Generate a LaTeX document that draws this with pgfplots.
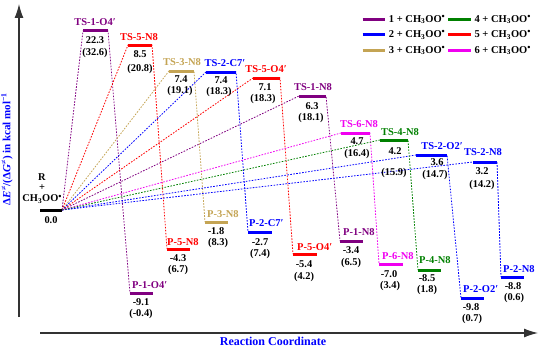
\documentclass[border=0pt]{standalone}
\usepackage{fontspec}
\setmainfont{Liberation Serif}
\usepackage{pgfplots}
\pgfplotsset{compat=1.18}
\usetikzlibrary{arrows.meta}
\definecolor{cP}{RGB}{128,0,128}
\definecolor{cB}{RGB}{0,0,255}
\definecolor{cT}{RGB}{196,164,84}
\definecolor{cG}{RGB}{0,128,0}
\definecolor{cR}{RGB}{255,0,0}
\definecolor{cM}{RGB}{240,0,240}
\newcommand{\rad}{CH\textsubscript{3}OO\raisebox{0.55ex}{\fontsize{9}{9}\selectfont •}}
\begin{document}
\begin{tikzpicture}[
 nm/.style={font=\bfseries\fontsize{10.5}{12}\selectfont, inner sep=0pt},
 vl/.style={font=\bfseries\fontsize{10.4}{12}\selectfont, inner sep=0pt, text=black},
 pn/.style={font=\bfseries\fontsize{10.5}{12}\selectfont, inner sep=0pt, anchor=west},
]
\begin{axis}[
 scale only axis, width=543pt, height=349pt,
 xmin=0, xmax=543, ymin=-139, ymax=210,
 hide axis, clip=false,
 legend columns=2,
 legend cell align=left,
 legend style={draw=none, fill=none, at={(axis cs:358,199)}, anchor=north west,
   font=\bfseries\fontsize{10.5}{12}\selectfont, row sep=3pt,
   /tikz/every odd column/.style={column sep=0pt}},
 legend image code/.code={\draw[#1, line width=3pt] (0cm,0cm) -- (0.8cm,0cm);},
 conn/.style={line width=0.8pt, dash pattern=on 1.6pt off 1.4pt, forget plot},
 bar/.style={line width=3pt, forget plot},
]
% connectors: R -> TS -> P
\addplot[cP, conn] coordinates {(62,0) (83,179) (108,179) (130,-83)};
\addplot[cP, conn] coordinates {(62,0) (299,114) (326,114) (340,-31)};
\addplot[cR, conn] coordinates {(62,0) (128,165) (152,165) (167,-39)};
\addplot[cR, conn] coordinates {(62,0) (253,132) (280,132) (293,-44)};
\addplot[cT, conn] coordinates {(62,0) (169,139) (194,139) (205,-12)};
\addplot[cB, conn] coordinates {(62,0) (206,138) (236,138) (248,-22)};
\addplot[cB, conn] coordinates {(62,0) (416,55) (447,55) (461,-88)};
\addplot[cB, conn] coordinates {(62,0) (473,48) (497,48) (501,-67)};
\addplot[cM, conn] coordinates {(62,0) (341,77) (370,77) (379,-54)};
\addplot[cG, conn] coordinates {(62,0) (380,70) (408,70) (418,-60)};
% levels
\addplot[black, bar] coordinates {(40,0) (62,0)};
\addplot[cP, bar] coordinates {(83,179) (108,179)};
\addplot[cR, bar] coordinates {(128,165) (152,165)};
\addplot[cT, bar] coordinates {(169,139) (194,139)};
\addplot[cB, bar] coordinates {(206,138) (236,138)};
\addplot[cR, bar] coordinates {(253,132) (280,132)};
\addplot[cP, bar] coordinates {(299,114) (326,114)};
\addplot[cM, bar] coordinates {(341,77) (370,77)};
\addplot[cG, bar] coordinates {(380,70) (408,70)};
\addplot[cB, bar] coordinates {(416,55) (447,55)};
\addplot[cB, bar] coordinates {(473,48) (497,48)};
\addplot[cP, bar] coordinates {(130,-83) (153,-83)};
\addplot[cR, bar] coordinates {(167,-39) (190,-39)};
\addplot[cT, bar] coordinates {(205,-12) (228,-12)};
\addplot[cB, bar] coordinates {(248,-22) (272,-22)};
\addplot[cR, bar] coordinates {(293,-44) (317,-44)};
\addplot[cP, bar] coordinates {(340,-31) (363,-31)};
\addplot[cM, bar] coordinates {(379,-54) (403,-54)};
\addplot[cG, bar] coordinates {(418,-60) (441,-60)};
\addplot[cB, bar] coordinates {(461,-88) (484,-88)};
\addplot[cB, bar] coordinates {(501,-67) (524,-67)};
% legend
\addlegendimage{cP} \addlegendentry{1 + \rad}
\addlegendimage{cG} \addlegendentry{4 + \rad}
\addlegendimage{cB} \addlegendentry{2 + \rad}
\addlegendimage{cR} \addlegendentry{5 + \rad}
\addlegendimage{cT} \addlegendentry{3 + \rad}
\addlegendimage{cM} \addlegendentry{6 + \rad}
% reactant labels
\node[vl] at (axis cs:42,33) {R};
\node[vl] at (axis cs:42,22) {+};
\node[vl] at (axis cs:42,11) {\rad};
\node[vl] at (axis cs:51,-10) {0.0};
% TS names
\node[nm, text=cP] at (axis cs:95,188) {TS-1-O4′};
\node[nm, text=cR] at (axis cs:139,173) {TS-5-N8};
\node[nm, text=cT] at (axis cs:182,148) {TS-3-N8};
\node[nm, text=cB] at (axis cs:225,147) {TS-2-C7′};
\node[nm, text=cR] at (axis cs:266,141) {TS-5-O4′};
\node[nm, text=cP] at (axis cs:313,123) {TS-1-N8};
\node[nm, text=cM] at (axis cs:359,86) {TS-6-N8};
\node[nm, text=cG] at (axis cs:400,78) {TS-4-N8};
\node[nm, text=cB] at (axis cs:442,64) {TS-2-O2′};
\node[nm, text=cB] at (axis cs:483,58) {TS-2-N8};
% TS values
\node[vl] at (axis cs:95,170) {22.3};  \node[vl] at (axis cs:95,157) {(32.6)};
\node[vl] at (axis cs:140,156) {8.5};  \node[vl] at (axis cs:140,141) {(20.8)};
\node[vl] at (axis cs:181,131) {7.4};  \node[vl] at (axis cs:180,119) {(19.1)};
\node[vl] at (axis cs:221,130) {7.4};  \node[vl] at (axis cs:219,118) {(18.3)};
\node[vl] at (axis cs:265,123) {7.1};  \node[vl] at (axis cs:263,111) {(18.3)};
\node[vl] at (axis cs:312,104) {6.3};  \node[vl] at (axis cs:311,92) {(18.1)};
\node[vl] at (axis cs:357,69) {4.7};   \node[vl] at (axis cs:357,56) {(16.4)};
\node[vl] at (axis cs:395,59) {4.2};   \node[vl] at (axis cs:394,37) {(15.9)};
\node[vl] at (axis cs:437,48) {3.6};   \node[vl] at (axis cs:435,35) {(14.7)};
\node[vl] at (axis cs:482,39) {3.2};   \node[vl] at (axis cs:482,25) {(14.2)};
% product names
\node[pn, text=cP] at (axis cs:132,-75) {P-1-O4′};
\node[pn, text=cR] at (axis cs:167,-32) {P-5-N8};
\node[pn, text=cT] at (axis cs:207,-4) {P-3-N8};
\node[pn, text=cB] at (axis cs:249,-13) {P-2-C7′};
\node[pn, text=cR] at (axis cs:297,-37) {P-5-O4′};
\node[pn, text=cP] at (axis cs:343,-22) {P-1-N8};
\node[pn, text=cM] at (axis cs:382,-46) {P-6-N8};
\node[pn, text=cG] at (axis cs:419,-50) {P-4-N8};
\node[pn, text=cB] at (axis cs:463,-79) {P-2-O2′};
\node[pn, text=cB] at (axis cs:503,-59) {P-2-N8};
% product values
\node[vl] at (axis cs:141,-92) {-9.1};  \node[vl] at (axis cs:141,-104) {(-0.4)};
\node[vl] at (axis cs:178,-48) {-4.3};  \node[vl] at (axis cs:178,-60) {(6.7)};
\node[vl] at (axis cs:216,-21) {-1.8};  \node[vl] at (axis cs:218,-33) {(8.3)};
\node[vl] at (axis cs:260,-32) {-2.7};  \node[vl] at (axis cs:260,-44) {(7.4)};
\node[vl] at (axis cs:304,-54) {-5.4};  \node[vl] at (axis cs:304,-67) {(4.2)};
\node[vl] at (axis cs:351,-40) {-3.4};  \node[vl] at (axis cs:351,-53) {(6.5)};
\node[vl] at (axis cs:389,-64) {-7.0};  \node[vl] at (axis cs:390,-76) {(3.4)};
\node[vl] at (axis cs:427,-68) {-8.5};  \node[vl] at (axis cs:427,-80) {(1.8)};
\node[vl] at (axis cs:471,-97) {-9.8};  \node[vl] at (axis cs:472,-109) {(0.7)};
\node[vl] at (axis cs:513,-76) {-8.8};  \node[vl] at (axis cs:514,-88) {(0.6)};
% axes arrows and labels
\draw[black!80, line width=1.2pt, -{Latex[length=14pt,width=9pt]}] (axis cs:19,-107) -- (axis cs:19,206);
\draw[black!80, line width=1.2pt, -{Latex[length=14pt,width=9pt]}] (axis cs:40,-123) -- (axis cs:538,-123);
\node[rotate=90, inner sep=0pt, font=\bfseries\fontsize{11}{13}\selectfont, text=cB] at (axis cs:7,61)
  {Δ\textit{E}\textsuperscript{≠}/(Δ\textit{G}\textsuperscript{≠}) in kcal mol\textsuperscript{−1}};
\node[inner sep=0pt, font=\bfseries\fontsize{12}{14}\selectfont, text=cB] at (axis cs:273,-131) {Reaction Coordinate};
\end{axis}
\pgfresetboundingbox
\path (current axis.south west) rectangle (current axis.north east);
\end{tikzpicture}
\end{document}
